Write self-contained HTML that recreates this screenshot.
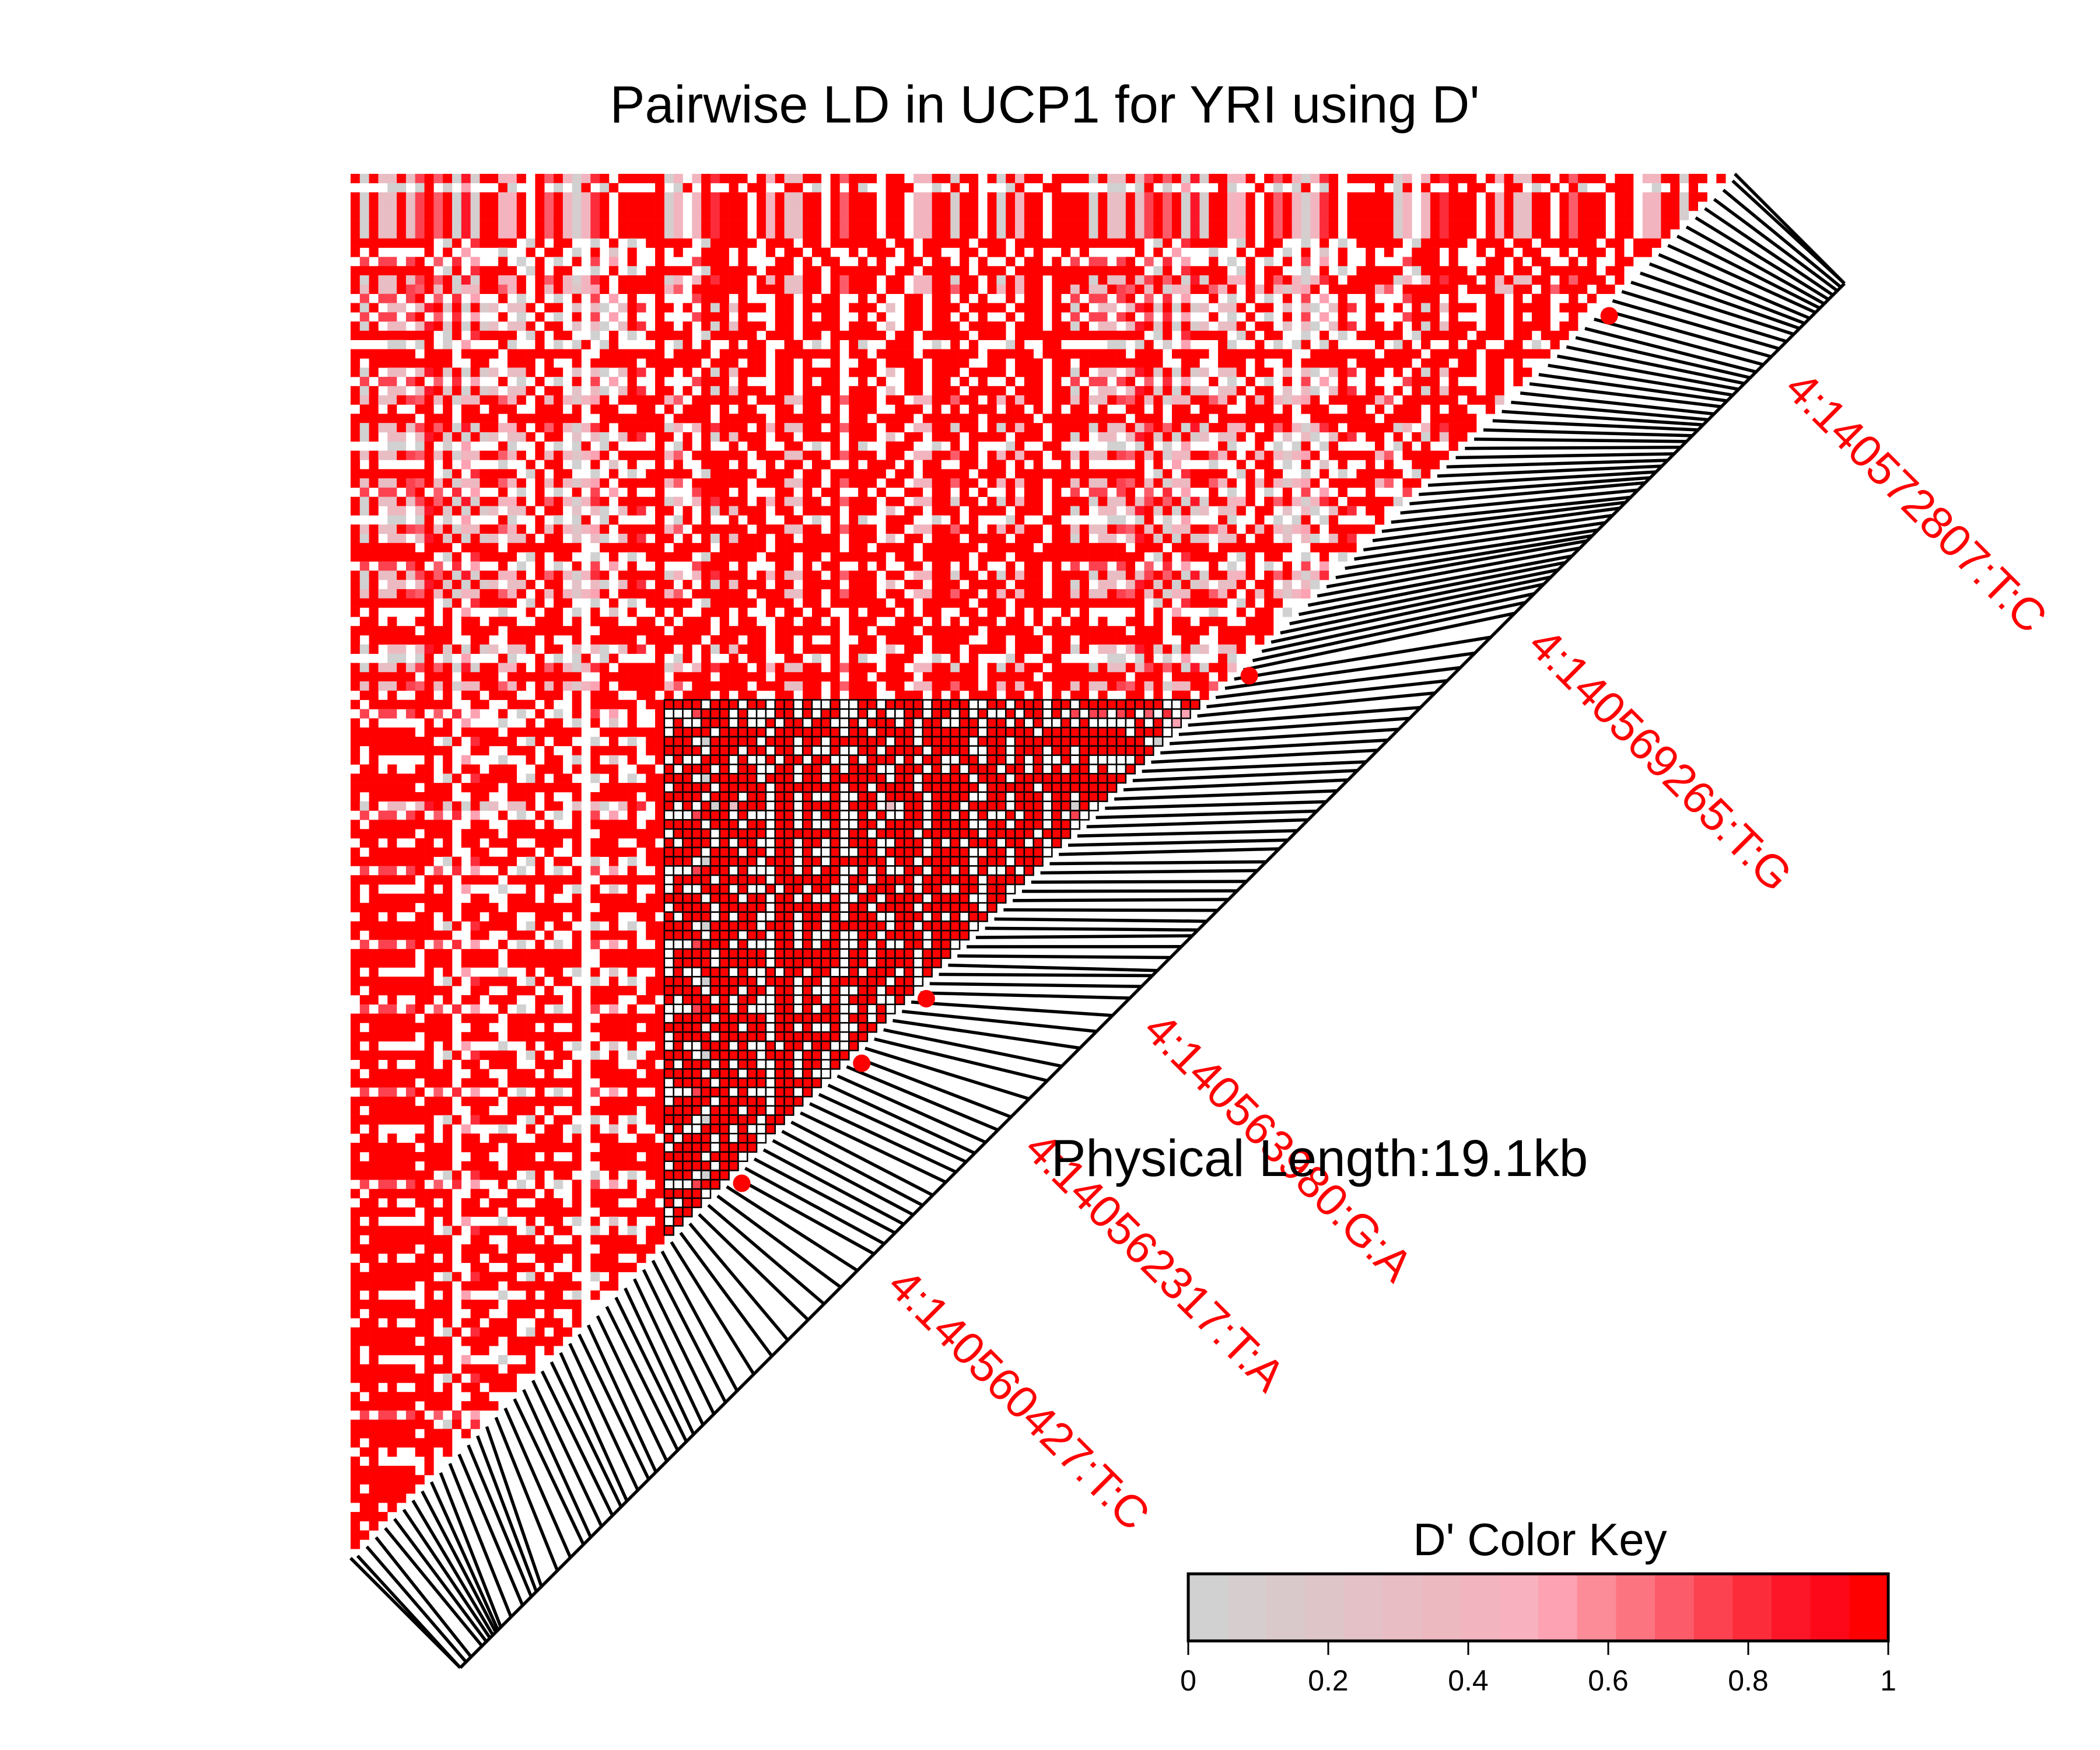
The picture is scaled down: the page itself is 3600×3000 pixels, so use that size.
<!DOCTYPE html>
<html><head><meta charset="utf-8"><style>
html,body{margin:0;padding:0;background:#fff;}
svg{display:block;font-family:"Liberation Sans",Arial,sans-serif;}
</style></head><body>
<svg id="chart" width="3600" height="3000" viewBox="0 0 3600 3000" xmlns="http://www.w3.org/2000/svg">
<rect x="0" y="0" width="3600" height="3000" fill="#fff"/>
<text x="1791" y="210" font-size="90" text-anchor="middle" fill="#000">Pairwise LD in UCP1 for YRI using D'</text>
<g id="cells"></g>
<g id="hl"></g>
<g id="segs"></g>
<g id="dots"></g>
<g id="labels"></g>
<text x="1802" y="2016" font-size="89" fill="#000">Physical Length:19.1kb</text>
<text x="2640" y="2666" font-size="78" text-anchor="middle" fill="#000">D' Color Key</text>
<g id="key"></g>
</svg>
<script>
// ---- data ----
const palette = ["#D1D1D1","#D6CDCE","#DAC9CB","#DEC5C8","#E3C1C6","#E8BDC3","#EDB9C1","#F2B5BF","#F8B2BF","#FCA2B2","#FC8C98","#FC7480","#FC5C6A","#FC4250","#FC2C3A","#FC1628","#FC0818","#FF0000"];
const keyTicks = [0,0.2,0.4,0.6,0.8,1];
const snpKb = [0.00,0.08,0.15,0.30,0.36,0.41,0.45,0.49,0.52,0.56,0.70,0.86,0.98,1.05,1.12,1.34,
1.52,1.70,1.80,1.95,2.10,2.22,2.30,2.45,2.60,2.70,2.85,3.00,3.12,3.22,3.35,3.50,3.66,3.82,
4.05,4.30,4.52,4.80,5.02,5.25,5.48,5.71,
5.85,6.00,6.12,6.25,6.38,6.52,6.70,6.84,6.98,7.10,7.25,7.42,7.60,
7.85,8.10,8.30,8.55,8.78,9.00,9.24,
9.40,9.55,9.62,9.80,9.95,10.10,10.18,10.30,10.45,10.60,10.72,10.85,11.00,11.12,11.30,11.42,11.55,11.70,11.82,11.95,12.10,12.25,12.38,12.50,12.66,12.80,12.95,13.10,13.25,13.45,13.62,13.80,14.00,14.22,14.55,
14.70,14.82,14.95,15.05,15.15,15.25,15.34,15.45,15.55,15.62,15.70,15.80,15.90,16.00,16.08,16.15,16.25,16.35,16.42,16.50,16.58,16.66,16.75,16.84,16.92,17.00,17.08,17.15,17.22,17.30,17.40,17.48,17.56,17.64,17.72,17.80,17.88,17.98,18.09,
18.20,18.30,18.40,18.48,18.55,18.62,18.70,18.76,18.82,18.88,18.94,19.00,19.05,19.10];
const totalKb = 19.1;
const labelSnps = [41,54,61,96,135];
const labelTexts = ["4:140560427:T:C","4:140562317:T:A","4:140563980:G:A","4:140569265:T:G","4:140572807:T:C"];
const highlightRange = [34,92];
const rowPatterns = [
"rarffrfnrmrapbrrhir.rmrhbhor.rrrrrbh.hrorrr.rhrffrr.rmrrr.rr.hhrrbrr.rarhrr.rrr",
"....aa.ar.b.j...ra..r.a.ar.ar....r.ar.r..r.rr..rr.a.r.ra..rrr..a.r.r...ar..rr.",
"r.rrrrrrrrr..rr..rrr.r..r.rrrrr.rrrrrr.rrr.rr.rr.r..r..rr.rrrr.rrrr..rr.rrr.r",
"r.r.....r.r.j...a..r.rr.a.r.d.r..r.r..rrr.r..r.rr.rr..r.rrr.r.rr..rr.rr.r.r..",
".n.nn.nr.m.o.j..r.a.r.a.r.n.j.r..r...nrrr.r...rr.r.rr..r.r..rr.rr.r.r..r.rr.r",
"rrrrrrrrr.ar.orrrr.ar.rr..a.r.a.rrrrr.arrrrr.rrr.rr.rrrrrr.rr.rrrrr.rrr.rrrrr",
"rar.gg.gprdrarcf.ffr.rr.e.ga.fro.rr.r.rarfrrr.rr.rrrr.rrr.f.rr.rrr.rrrr.rrr.r",
"rrrrrrr.rrr.rrrr.rrrrrrrr..rrrrrrr.rrrr.rrrrr.rrrrrrr.rr.rrrr.rrrrrr.rrrrr.rr",
".rr.r..rr.r.rr.rrr..rrr.r.rrr..rr.r.rrr.r.rr..rr.rr.r.rrr..rrr.r.r.rrr.rr.r.r",
"rfrffrnmrgrbhgrrmhr.rgrhdhjr.rrrrrhm.rrrrrr.rrrffrr.rmrrr.rr.hhrrmrr.rhrhrr.r"];
const rowPattern = [0,1,0,0,0,0,0,5,3,4,5,0,9,4,6,4,6,5,1,7,2,6,4,6,9,8,7,0,6,1,
9,3,5,9,4,0,6,1,9,6,7,5,4,0,6,9,5,3,8,7,2,6,1,0,7,9,8,2,4,3,
7,5,2,3,8,5,7,2,6,4,2,7,8,2,5,4,7,3,2,7,8,5,2,4,7,7,3,5,2,8,
4,7,2,7,3,5,8,2,7,4,7,2,5,3,8,7,2,7,5,4,2,8,7,3,5,2,7,8,2,5,
7,3,7,2,8,5,7,2,3,7,5,8,2,7,4,5,7,2,8,3,7,5,2,7,8,7,2,5,7,3];
// ---- geometry ----
const N = snpKb.length, cell = 15.82, x0 = 601, y0 = 298, off = 188;
const NS = "http://www.w3.org/2000/svg";
function mk(t, a){const e=document.createElementNS(NS,t);for(const k in a)e.setAttribute(k,a[k]);return e;}
function colorOf(ch){ if(ch==='.') return null; const i=ch.charCodeAt(0)-97; return palette[Math.max(0,Math.min(17,i))]; }
function diagPt(k){ const x=x0+cell/2+cell*k; return [x, (x0+y0+cell*N)-x]; }
function genPt(kb){ const f=kb/totalKb; return [x0+off+cell*N*f, y0+cell*N+off-cell*N*f]; }

const cells=document.getElementById('cells'), hl=document.getElementById('hl');
for(let r=0;r<N-1;r++){
  const pat=rowPatterns[rowPattern[r]%rowPatterns.length];
  for(let c=0;c<=N-2-r;c++){
    const col=colorOf(pat[c%pat.length]);
    const inHl = c>=highlightRange[0] && r>=(N-1-highlightRange[1]);
    if(!col && !inHl) continue;
    const rc=mk('rect',{x:(x0+c*cell).toFixed(2),y:(y0+r*cell).toFixed(2),width:cell+0.3,height:cell+0.3,fill:col||'#fff'});
    
    
    if(inHl){ rc.setAttribute('width',cell); rc.setAttribute('height',cell); rc.setAttribute('stroke','#000'); rc.setAttribute('stroke-width','2.5'); hl.appendChild(rc);} else cells.appendChild(rc);
  }
}
// genome line & segments
const segs=document.getElementById('segs');
const g0=genPt(0), g1=genPt(totalKb);
[[x0,y0+cell*N,g0[0],g0[1]],[x0+cell*N,y0,g1[0],g1[1]],[g0[0],g0[1],g1[0],g1[1]]].forEach(p=>{
  const l=mk('line',{x1:p[0],y1:p[1],x2:p[2],y2:p[3],stroke:'#000','stroke-width':5.5});
  
  
  segs.appendChild(l);
});
for(let k=0;k<N;k++){
  const d=diagPt(k), g=genPt(snpKb[k]);
  const l=mk('line',{x1:d[0]+4,y1:d[1]+4,x2:g[0],y2:g[1],stroke:'#000','stroke-width':5.5});
  
  
  segs.appendChild(l);
}
const dots=document.getElementById('dots'), labels=document.getElementById('labels');
labelSnps.forEach((k,i)=>{
  const d=diagPt(k);
  const c=mk('circle',{cx:d[0]+14,cy:d[1]+14,r:15,fill:'#F00'});
  
  
  dots.appendChild(c);
  const g=genPt(snpKb[k]);
  const t=mk('text',{x:0,y:0,dx:55,dy:'0.35em','font-size':78,fill:'#F00',transform:`translate(${g[0]},${g[1]}) rotate(45)`});
  t.textContent=labelTexts[i];
  
  
  labels.appendChild(t);
});
// color key
const key=document.getElementById('key');
const kx0=2037,kx1=3237,ky0=2698,ky1=2813,bw=(kx1-kx0)/palette.length;
palette.forEach((col,i)=>{
  const r=mk('rect',{x:kx0+i*bw,y:ky0,width:bw+0.8,height:ky1-ky0,fill:col});
  
  
  key.appendChild(r);
});
const kb=mk('rect',{x:kx0,y:ky0,width:kx1-kx0,height:ky1-ky0,fill:'none',stroke:'#000','stroke-width':5});


key.appendChild(kb);
keyTicks.forEach(v=>{
  const x=kx0+(kx1-kx0)*v;
  const l=mk('line',{x1:x,y1:ky1,x2:x,y2:ky1+24,stroke:'#000','stroke-width':3});
  
  
  key.appendChild(l);
  const t=mk('text',{x:x,y:2898,'font-size':50,'text-anchor':'middle',fill:'#000'});
  t.textContent=String(v);
  
  
  key.appendChild(t);
});
</script>
</body></html>
